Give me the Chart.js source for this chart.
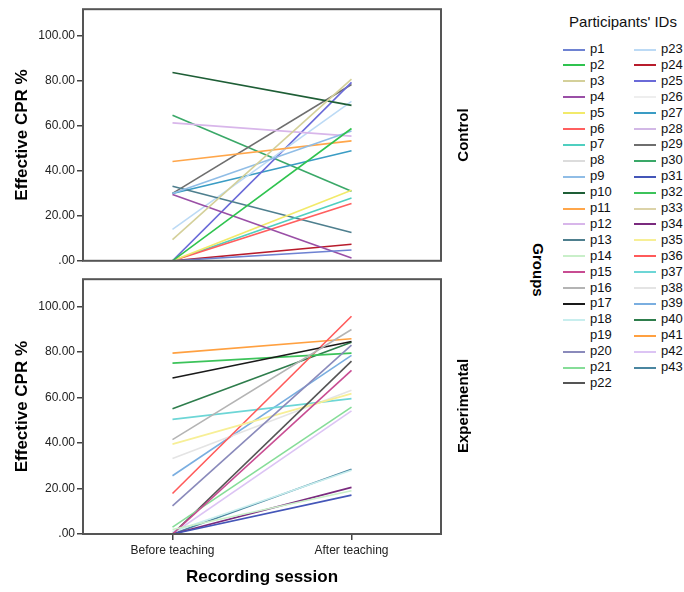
<!DOCTYPE html>
<html>
<head>
<meta charset="utf-8">
<script src="https://cdn.jsdelivr.net/npm/chart.js@4.4.1/dist/chart.umd.min.js"></script>
<style>
  body { margin: 0; background: #fff; font-family: "Liberation Sans", Arial, sans-serif; }
  #page { position: relative; width: 684px; height: 592px; overflow: hidden; background: #fff; }
  #page canvas { position: absolute; left: 0; }
  .vlabel { position: absolute; font-weight: bold; white-space: nowrap; color: #000; }
  #legendTitle { position: absolute; left: 563px; top: 13px; width: 120px; text-align: center; font-size: 15px; color: #111; white-space: nowrap; }
  .legItem { position: absolute; height: 16px; line-height: 16px; font-size: 13px; color: #111; white-space: nowrap; }
  .legItem span { display: inline-block; width: 22px; height: 2px; vertical-align: middle; margin-right: 5px; }
</style>
</head>
<body>
<div id="page">
  <canvas id="controlChart" width="470" height="270" style="top:0"></canvas>
  <canvas id="experimentalChart" width="470" height="322" style="top:270px"></canvas>
  <div class="vlabel" style="left:462px;top:135px;font-size:15px;transform:translate(-50%,-50%) rotate(-90deg)">Control</div>
  <div class="vlabel" style="left:462px;top:406px;font-size:15px;transform:translate(-50%,-50%) rotate(-90deg)">Experimental</div>
  <div class="vlabel" style="left:538px;top:270px;font-size:15px;transform:translate(-50%,-50%) rotate(90deg)">Groups</div>
  <div id="legendTitle">Participants' IDs</div>
  <div id="legend"></div>
</div>
<script>
// ---- data ----
const sessions = ['Before teaching', 'After teaching'];

const participantIds = ['p1', 'p2', 'p3', 'p4', 'p5', 'p6', 'p7', 'p8', 'p9', 'p10', 'p11',
    'p12', 'p13', 'p14', 'p15', 'p16', 'p17', 'p18', 'p19', 'p20', 'p21', 'p22',
    'p23', 'p24', 'p25', 'p26', 'p27', 'p28', 'p29', 'p30', 'p31', 'p32', 'p33',
    'p34', 'p35', 'p36', 'p37', 'p38', 'p39', 'p40', 'p41', 'p42', 'p43'];

const idColors = ['#6e82d2', '#2fc34f', '#d4d09a', '#9a4fa6', '#f2ea6a', '#ff5f5f', '#4fcfc0',
    '#dcdcdc', '#90bde6', '#1e5e36', '#ffa64a', '#d8b6ea', '#4e7f8e', '#c9efc9', '#c84c92',
    '#b4b4b4', '#1a1a1a', '#c8eeee', 'rgba(0,0,0,0)', '#8a8abb', '#86dd98', '#555555',
    '#bcdaf5', '#b81c2c', '#6a6ad8', '#eeeeee', '#3a9cc4', '#d2b8e6', '#6e6e6e', '#3aa868',
    '#4456b8', '#3cc35a', '#dcd3a8', '#7a2a7e', '#f7ef96', '#ff5a5a', '#6dd6d6', '#e4e4e4',
    '#7aaee0', '#2e7d4c', '#ffa040', '#dcc4f4', '#4a86a0'];

// Control group
const controlIds    = ['p1', 'p2', 'p3', 'p4', 'p5', 'p6', 'p7', 'p9', 'p10', 'p11', 'p12', 'p13', 'p23', 'p24', 'p25', 'p27', 'p29', 'p30'];
const controlBefore = [0, 0, 9.4, 29.5, 0, 0, 0, 30, 83.8, 44.2, 61.4, 33.2, 14, 0, 0, 30, 30, 64.8];
const controlAfter  = [4.8, 58.9, 80.9, 1.3, 31.4, 25.5, 28, 57.8, 69.2, 53.4, 55.5, 12.6, 71, 7.4, 79.4, 49, 78.5, 31];

// Experimental group
const experimentalIds    = ['p14', 'p15', 'p16', 'p17', 'p18', 'p20', 'p21', 'p22', 'p31', 'p32', 'p34', 'p35', 'p36', 'p37', 'p38', 'p39', 'p40', 'p41', 'p42', 'p43'];
const experimentalBefore = [2, 0, 41.5, 68.6, 1, 12.4, 3, 0, 0, 75.1, 0, 39.5, 17.8, 50.4, 33.2, 25.6, 55.1, 79.5, 0, 0];
const experimentalAfter  = [19, 71.9, 89.9, 84.6, 28, 83, 55.8, 76, 17.1, 79.5, 20.5, 61.7, 95.7, 59.5, 63.2, 78.5, 84.3, 85.8, 54.1, 28.5];

const yMax = 112;
const yStep = 20;

// ---- drawing ----
const FONT = '"Liberation Sans", Arial, sans-serif';

// box round each panel
const panelFrame = {
    id: 'panelFrame',
    afterDraw(chart) {
        const { ctx, chartArea: a } = chart;
        ctx.save();
        ctx.strokeStyle = '#555';
        ctx.lineWidth = 2;
        ctx.strokeRect(a.left, a.top, a.right - a.left, a.bottom - a.top);
        ctx.restore();
    }
};

function buildPanel(canvasId, ids, before, after, showX) {
    const datasets = ids.map((id, i) => ({
        label: id,
        data: [before[i], after[i]],
        borderColor: idColors[participantIds.indexOf(id)],
        borderWidth: 1.6,
        pointRadius: 0,
        fill: false,
        tension: 0
    }));

    return new Chart(document.getElementById(canvasId), {
        type: 'line',
        data: { labels: sessions, datasets: datasets },
        plugins: [panelFrame],
        options: {
            responsive: false,
            animation: false,
            layout: { padding: { top: showX ? 9 : 8, right: 29, bottom: showX ? 0 : 8, left: 0 } },
            plugins: { legend: { display: false }, tooltip: { enabled: false } },
            scales: {
                x: {
                    display: showX,
                    offset: true,
                    grid: { drawOnChartArea: false, drawTicks: true, tickLength: 6, color: '#444', lineWidth: 1.5 },
                    border: { display: false },
                    ticks: { color: '#222', font: { family: FONT, size: 12 }, padding: 3, maxRotation: 0 },
                    title: {
                        display: true, text: 'Recording session', color: '#000',
                        font: { family: FONT, size: 17, weight: 'bold' },
                        padding: { top: 0, bottom: 4 }
                    },
                    afterFit: s => { if (showX) s.height = 58; }
                },
                y: {
                    min: 0,
                    max: yMax,
                    grid: { drawOnChartArea: false, drawTicks: true, tickLength: 6, color: '#444', lineWidth: 1.5 },
                    border: { display: false },
                    ticks: {
                        stepSize: yStep,
                        includeBounds: false,
                        color: '#222',
                        font: { family: FONT, size: 12 },
                        padding: 2,
                        callback: v => v === 0 ? '.00' : v.toFixed(2)
                    },
                    title: {
                        display: true, text: 'Effective CPR %', color: '#000',
                        font: { family: FONT, size: 17, weight: 'bold' },
                        padding: { top: 12, bottom: 0 }
                    },
                    afterFit: s => { s.width = 83; }
                }
            }
        }
    });
}

buildPanel('controlChart', controlIds, controlBefore, controlAfter, false);
buildPanel('experimentalChart', experimentalIds, experimentalBefore, experimentalAfter, true);

// legend, two columns
const legend = document.getElementById('legend');
participantIds.forEach((id, i) => {
    const col = i < 22 ? 0 : 1;
    const row = i < 22 ? i : i - 22;
    const item = document.createElement('div');
    item.className = 'legItem';
    item.style.left = (col === 0 ? 563 : 634) + 'px';
    item.style.top = (41 + row * 15.9) + 'px';
    const swatch = document.createElement('span');
    swatch.style.background = idColors[i];
    item.appendChild(swatch);
    item.appendChild(document.createTextNode(id));
    legend.appendChild(item);
});
</script>
</body>
</html>
